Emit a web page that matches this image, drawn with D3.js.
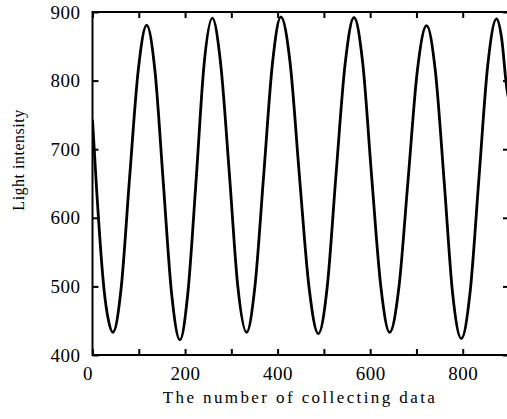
<!DOCTYPE html>
<html>
<head>
<meta charset="utf-8">
<script src="https://cdn.jsdelivr.net/npm/d3@7"></script>
<style>
  body { margin: 0; background: #fff; }
  text { font-family: "Liberation Serif", "DejaVu Serif", serif; fill: #000; }
</style>
</head>
<body>
<div id="chart"></div>
<script>
// data
var sampleNo = [0, 9, 25, 34, 44, 62, 80, 99, 117, 135, 153, 171, 189, 206, 224, 241, 259,
  277, 296, 314, 333, 351, 370, 389, 407, 427, 447, 468, 488, 507, 526, 546, 565,
  584, 603, 623, 642, 662, 682, 702, 722, 741, 760, 778, 797, 816, 835, 854, 873, 884, 895, 900];
var intensity = [743, 640, 495, 452, 433, 498, 657, 816, 881, 814, 651, 489, 422, 490, 656, 823, 891,
  824, 662, 500, 433, 500, 663, 826, 893, 826, 662, 498, 431, 498, 661, 825, 892,
  825, 662, 500, 433, 498, 656, 815, 880, 813, 652, 491, 424, 492, 657, 822, 890, 862, 790, 770];
var xTicks = [0, 100, 200, 300, 400, 500, 600, 700, 800, 900];
var xLabels = [0, 200, 400, 600, 800];
var yTicks = [400, 500, 600, 700, 800, 900];

var W = 507, H = 419;
var mLeft = 92.5, mRight = 509, mTop = 12, mBottom = 355;

var svg = d3.select("#chart").append("svg").attr("width", W).attr("height", H);

var XScale = d3.scaleLinear().domain([0, 900]).range([mLeft, mRight]);
var YScale = d3.scaleLinear().domain([400, 900]).range([mBottom, mTop]);

svg.append("clipPath").attr("id", "plot")
  .append("rect").attr("x", mLeft).attr("y", mTop - 5).attr("width", mRight - mLeft).attr("height", mBottom - mTop + 5);

var pts = sampleNo.map(function (d, i) { return [d, intensity[i]]; });
var line = d3.line()
  .x(function (d) { return XScale(d[0]); })
  .y(function (d) { return YScale(d[1]); })
  .curve(d3.curveMonotoneX);

svg.append("path").datum(pts)
  .attr("clip-path", "url(#plot)")
  .attr("d", line)
  .attr("fill", "none")
  .attr("stroke", "#000")
  .attr("stroke-width", 2.8);

// axes, ticks inward
function fmtX(d) { return xLabels.indexOf(d) >= 0 ? d : ""; }

var gx = svg.append("g").attr("transform", "translate(0," + mBottom + ")")
  .call(d3.axisBottom(XScale).tickValues(xTicks).tickSize(-6).tickPadding(11.5).tickFormat(fmtX));
var gxt = svg.append("g").attr("transform", "translate(0," + mTop + ")")
  .call(d3.axisTop(XScale).tickValues(xTicks).tickSize(-6).tickFormat(""));
var gy = svg.append("g").attr("transform", "translate(" + mLeft + ",0)")
  .call(d3.axisLeft(YScale).tickValues(yTicks).tickSize(-6).tickPadding(12));
var gyr = svg.append("g").attr("transform", "translate(" + mRight + ",0)")
  .call(d3.axisRight(YScale).tickValues(yTicks).tickSize(-6).tickFormat(""));

[gx, gxt, gy, gyr].forEach(function (g) {
  g.select(".domain").remove();
  g.selectAll("line").attr("stroke", "#000").attr("stroke-width", 2);
  g.selectAll("text").attr("font-size", 19).attr("letter-spacing", 0.5)
    .attr("font-family", "Liberation Serif, serif").attr("fill", "#000");
});
gx.selectAll(".tick").filter(function (d) { return d == 0; }).select("text").attr("dx", -5);

svg.append("rect")
  .attr("x", mLeft).attr("y", mTop)
  .attr("width", mRight - mLeft).attr("height", mBottom - mTop)
  .attr("fill", "none").attr("stroke", "#000").attr("stroke-width", 2);

svg.append("text")
  .attr("transform", "translate(300,403)")
  .attr("text-anchor", "middle")
  .attr("font-size", 17)
  .attr("letter-spacing", 2.4)
  .text("The number of collecting data");

svg.append("text")
  .attr("transform", "translate(24,160) rotate(-90)")
  .attr("text-anchor", "middle")
  .attr("font-size", 16)
  .attr("letter-spacing", 0.5)
  .text("Light intensity");
</script>
</body>
</html>
